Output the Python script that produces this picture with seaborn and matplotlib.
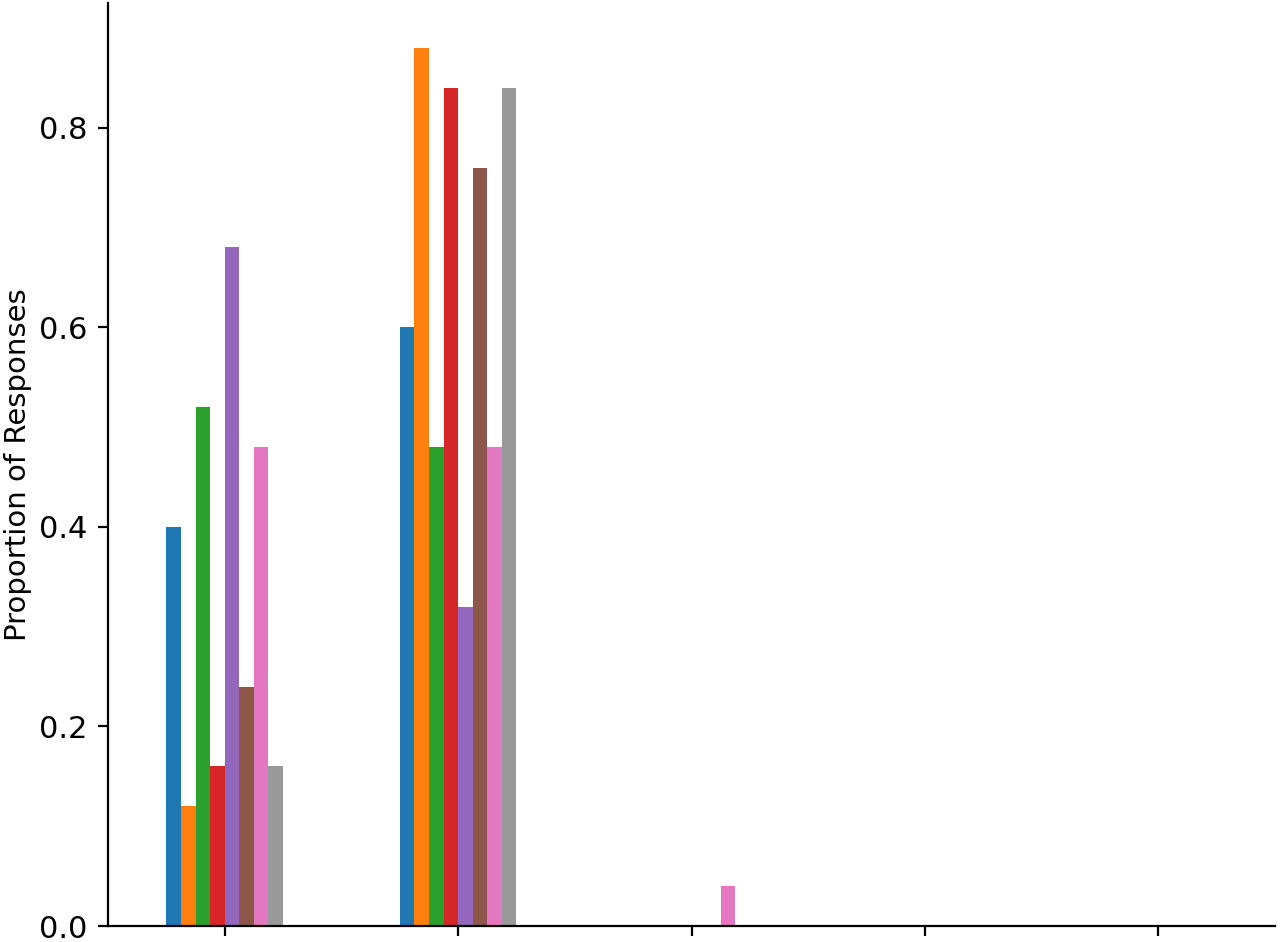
import numpy as np
import pandas as pd
import seaborn as sns
import matplotlib.pyplot as plt

# ---------------------------------------------------------------------------
# Data
# ---------------------------------------------------------------------------

categories = ['A', 'B', 'C', 'D', 'E']
groups = ['G1', 'G2', 'G3', 'G4', 'G5', 'G6', 'G7', 'G8']

proportions = {
    'G1': [0.40, 0.60, 0.00, 0.00, 0.00],
    'G2': [0.12, 0.88, 0.00, 0.00, 0.00],
    'G3': [0.52, 0.48, 0.00, 0.00, 0.00],
    'G4': [0.16, 0.84, 0.00, 0.00, 0.00],
    'G5': [0.68, 0.32, 0.00, 0.00, 0.00],
    'G6': [0.24, 0.76, 0.00, 0.00, 0.00],
    'G7': [0.48, 0.48, 0.04, 0.00, 0.00],
    'G8': [0.16, 0.84, 0.00, 0.00, 0.00],
}

palette = ['#1f77b4', '#ff7f0e', '#2ca02c', '#d62728',
           '#9467bd', '#8c564b', '#e377c2', '#999999']

rows = []
for g in groups:
    for cat, v in zip(categories, proportions[g]):
        rows.append({'category': cat, 'group': g, 'proportion': v})
df = pd.DataFrame(rows)

# ---------------------------------------------------------------------------
# Plot
# ---------------------------------------------------------------------------

sns.set_style('ticks')
plt.rcParams['font.family'] = ['DejaVu Sans']

fig = plt.figure(figsize=(6.4, 4.71), dpi=200)
ax = fig.add_axes([108 / 1280, 1 - 926 / 942, (1275 - 108) / 1280, (926 - 3) / 942])

sns.barplot(
    data=df, x='category', y='proportion', hue='group',
    order=categories, hue_order=groups, palette=palette,
    width=0.5, linewidth=0, saturation=1, ax=ax, legend=False,
)

ax.set_xlim(-0.5, 4.5)
ax.set_ylim(0, 0.925)
ax.set_yticks([0.0, 0.2, 0.4, 0.6, 0.8])
ax.set_xticklabels([])
ax.set_xlabel('')
ax.set_ylabel('Proportion of Responses', fontsize=10.5, color='black', labelpad=2.5)
ax.tick_params(axis='both', labelsize=11, length=3.5, width=0.8,
               colors='black', pad=4)
for s in ['left', 'bottom']:
    ax.spines[s].set_linewidth(0.8)
    ax.spines[s].set_color('black')
sns.despine(ax=ax)

fig.savefig('out.png', dpi=200)
